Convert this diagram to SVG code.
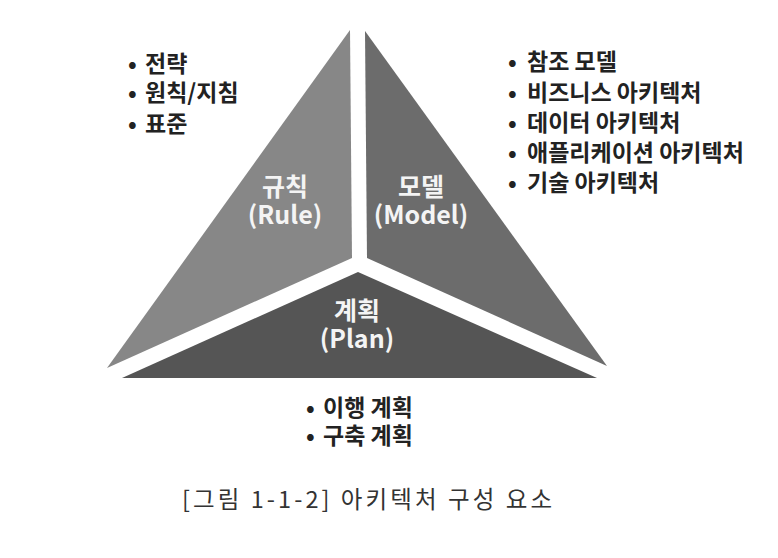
<svg xmlns="http://www.w3.org/2000/svg" width="778" height="558" viewBox="0 0 778 558">
<style>
.lbl{font-family:"Noto Sans CJK KR","Noto Sans",sans-serif;font-weight:700;font-size:25px;fill:#f4f4f4;text-anchor:middle}
.item{font-family:"Noto Sans CJK KR","Noto Sans",sans-serif;font-weight:700;font-size:23px;fill:#222}
.cap{font-family:"Noto Sans CJK KR","Noto Sans",sans-serif;font-weight:400;font-size:23.5px;fill:#333}
</style>
<rect width="778" height="558" fill="#ffffff"/>
<g id="rule">
<polygon points="350,30 352,258 107,368" fill="#878787"/>
<text class="lbl"><tspan x="285" y="196">규칙</tspan><tspan x="285" y="224">(Rule)</tspan></text>
</g>
<g id="model">
<polygon points="365,31 367,258 607,366" fill="#6c6c6c"/>
<text class="lbl"><tspan x="421" y="196">모델</tspan><tspan x="421" y="224">(Model)</tspan></text>
</g>
<g id="plan">
<polygon points="358,272 122,378 597,378" fill="#555555"/>
<text class="lbl"><tspan x="357" y="320">계획</tspan><tspan x="357" y="348">(Plan)</tspan></text>
</g>
<g id="rule-list">
<text class="item"><tspan x="128" y="72">•</tspan><tspan x="145" y="72">전략</tspan></text>
<text class="item"><tspan x="128" y="101">•</tspan><tspan x="145" y="101">원칙/지침</tspan></text>
<text class="item"><tspan x="128" y="132">•</tspan><tspan x="145" y="132">표준</tspan></text>
</g>
<g id="model-list">
<text class="item"><tspan x="508" y="70">•</tspan><tspan x="527" y="70">참조 모델</tspan></text>
<text class="item"><tspan x="508" y="101">•</tspan><tspan x="527" y="101">비즈니스 아키텍처</tspan></text>
<text class="item"><tspan x="508" y="131">•</tspan><tspan x="527" y="131">데이터 아키텍처</tspan></text>
<text class="item"><tspan x="508" y="161">•</tspan><tspan x="527" y="161">애플리케이션 아키텍처</tspan></text>
<text class="item"><tspan x="508" y="191">•</tspan><tspan x="527" y="191">기술 아키텍처</tspan></text>
</g>
<g id="plan-list">
<text class="item"><tspan x="306" y="416">•</tspan><tspan x="323" y="416">이행 계획</tspan></text>
<text class="item"><tspan x="306" y="444">•</tspan><tspan x="323" y="444">구축 계획</tspan></text>
</g>
<g id="caption">
<text class="cap" x="182" y="508" textLength="370" lengthAdjust="spacing">[그림 1-1-2] 아키텍처 구성 요소</text>
</g>
</svg>
